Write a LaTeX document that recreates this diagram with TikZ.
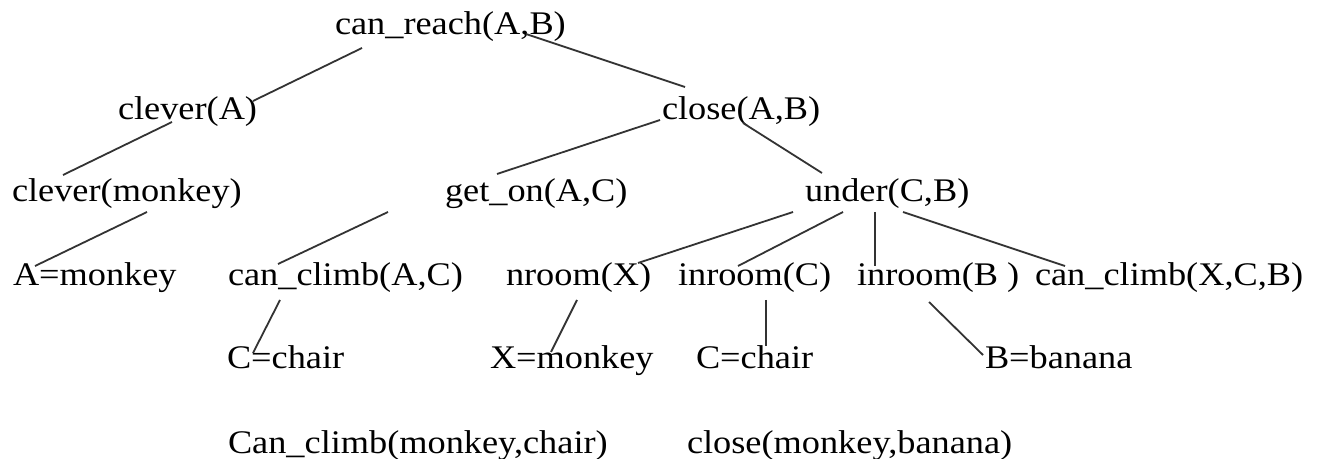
\documentclass[tikz,border=0pt]{standalone}
\usepackage{fontspec}
\setmainfont{Liberation Serif}[FakeStretch=1.1]
\begin{document}
\begin{tikzpicture}[x=0.5pt,y=-0.5pt,
  lbl/.style={anchor=base west, inner sep=0pt, outer sep=0pt, text=black, font=\fontsize{16.5}{19}\selectfont},
  edge/.style={draw=black!80, line width=0.9pt}]
\useasboundingbox (0,0) rectangle (1317,459);
% row 1
\node[lbl] (cr) at (335,35) {can\_reach(A,B)};
% row 2
\node[lbl] (cva) at (118,120) {clever(A)};
\node[lbl] (cab) at (662,120) {close(A,B)};
% row 3
\node[lbl] (cvm) at (12,202) {clever(monkey)};
\node[lbl] (go) at (445,202) {get\_on(A,C)};
\node[lbl] (ucb) at (805,202) {under(C,B)};
% row 4
\node[lbl] (am) at (13,286) {A=monkey};
\node[lbl] (cc) at (228,286) {can\_climb(A,C)};
\node[lbl] (nx) at (506,286) {nroom(X)};
\node[lbl] (ic) at (678,286) {inroom(C)};
\node[lbl] (ib) at (857,286) {inroom(B )};
\node[lbl] (cxcb) at (1035,286) {can\_climb(X,C,B)};
% row 5
\node[lbl] (cch1) at (227,369) {C=chair};
\node[lbl] (xm) at (490,369) {X=monkey};
\node[lbl] (cch2) at (696,369) {C=chair};
\node[lbl] (bb) at (985,369) {B=banana};
% row 6
\node[lbl] (ccmc) at (228,453) {Can\_climb(monkey,chair)};
\node[lbl] (cmb) at (687,453) {close(monkey,banana)};
% connector end points
\coordinate (p1a) at (362,48);  \coordinate (p1b) at (253,101);
\coordinate (p2a) at (526,34);  \coordinate (p2b) at (685,87);
\coordinate (p3a) at (172,122); \coordinate (p3b) at (63,175);
\coordinate (p4a) at (660,120); \coordinate (p4b) at (497,174);
\coordinate (p5a) at (743,123); \coordinate (p5b) at (822,173);
\coordinate (p6a) at (147,212); \coordinate (p6b) at (35,266);
\coordinate (p7a) at (388,212); \coordinate (p7b) at (278,264);
\coordinate (p8a) at (793,212); \coordinate (p8b) at (638,263);
\coordinate (p9a) at (843,212); \coordinate (p9b) at (738,266);
\coordinate (p10a) at (875,212); \coordinate (p10b) at (875,266);
\coordinate (p11a) at (903,212); \coordinate (p11b) at (1065,266);
\coordinate (p12a) at (280,300); \coordinate (p12b) at (253,353);
\coordinate (p13a) at (577,300); \coordinate (p13b) at (551,352);
\coordinate (p14a) at (766,300); \coordinate (p14b) at (766,346);
\coordinate (p15a) at (929,302); \coordinate (p15b) at (983,355);
\foreach \i in {1,...,15} { \draw[edge] (p\i a) -- (p\i b); }
\end{tikzpicture}
\end{document}
